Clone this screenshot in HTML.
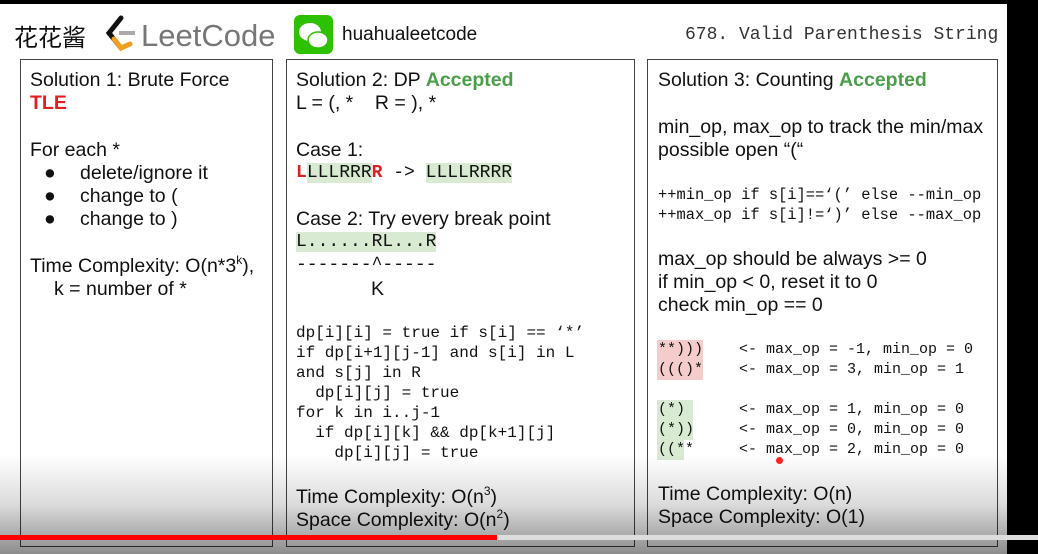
<!DOCTYPE html>
<html><head><meta charset="utf-8"><style>
body{margin:0;width:1038px;height:554px;overflow:hidden;background:#fff;position:relative;font-family:"Liberation Sans","Noto Sans CJK SC",sans-serif;color:#111}
.a{position:absolute;white-space:pre;line-height:23px;font-size:19.5px}
.m{position:absolute;white-space:pre;font-family:"Liberation Mono",monospace;font-size:16px;line-height:20px}
.box{position:absolute;border:1.5px solid #444;top:59px;height:486px}
.g{color:#4a9e4a;font-weight:bold}.r{color:#e02020;font-weight:bold}
.hg{background:#d9ead3}.hr{background:#f4cccc}
sup{font-size:12px;line-height:0;vertical-align:8px}
</style></head><body>
<div style="position:absolute;left:0;top:0;width:1038px;height:4px;background:#000"></div>
<div style="position:absolute;left:1007px;top:0;width:31px;height:554px;background:#000"></div>
<div class="a" style="left:14px;top:23px;font-size:24px;line-height:26px;font-family:'Noto Sans CJK SC',sans-serif">花花酱</div>
<svg style="position:absolute;left:103px;top:15px" width="36" height="38"><path d="M18 3 L6 18 L18 33" stroke="#111" stroke-width="5" fill="none" stroke-linecap="round"/><path d="M11 24 L18 33 L27 29" stroke="#f0a020" stroke-width="5" fill="none" stroke-linecap="round"/><line x1="16" y1="18" x2="32" y2="18" stroke="#aaa" stroke-width="4"/></svg>
<div class="a" style="left:141px;top:20px;font-size:31px;line-height:32px;color:#777">LeetCode</div>
<div style="position:absolute;left:294px;top:15px;width:39px;height:39px;background:#2dc100;border-radius:6px"></div>
<svg style="position:absolute;left:294px;top:15px" width="39" height="39"><ellipse cx="16" cy="17" rx="11" ry="9" fill="#fff"/><ellipse cx="24" cy="25" rx="10" ry="8" fill="#fff" stroke="#2dc100" stroke-width="1.5"/></svg>
<div class="a" style="left:342px;top:23px;font-size:19px">huahualeetcode</div>
<div class="m" style="left:685px;top:24px;font-size:18px;line-height:22px;color:#333">678. Valid Parenthesis String</div>

<div class="box" style="left:20px;width:251px"></div>
<div class="box" style="left:286px;width:347px"></div>
<div class="box" style="left:647px;width:349px"></div>

<div class="a" style="left:30px;top:69px">Solution 1: Brute Force</div>
<div class="a r" style="left:30px;top:92px">TLE</div>
<div class="a" style="left:30px;top:139px">For each *</div>
<div class="a" style="left:44px;top:162px">●</div><div class="a" style="left:80px;top:162px">delete/ignore it</div>
<div class="a" style="left:44px;top:185px">●</div><div class="a" style="left:80px;top:185px">change to (</div>
<div class="a" style="left:44px;top:208px">●</div><div class="a" style="left:80px;top:208px">change to )</div>
<div class="a" style="left:30px;top:255px">Time Complexity: O(n*3<sup>k</sup>),</div>
<div class="a" style="left:54px;top:278px">k = number of *</div>

<div class="a" style="left:296px;top:69px">Solution 2: DP <span class="g">Accepted</span></div>
<div class="a" style="left:296px;top:92px">L = (, *    R = ), *</div>
<div class="a" style="left:296px;top:139px">Case 1:</div>
<div class="m" style="left:296px;top:161px;font-size:18px;line-height:24px"><span class="r">L</span><span class="hg">LLLRRR</span><span class="r">R</span> -&gt; <span class="hg">LLLLRRRR</span></div>
<div class="a" style="left:296px;top:208px">Case 2: Try every break point</div>
<div class="m" style="left:296px;top:230px;font-size:18px;line-height:24px"><span class="hg">L......RL...R</span></div>
<div class="m" style="left:296px;top:253px;font-size:18px;line-height:24px">-------^-----</div>
<div class="a" style="left:371px;top:278px">K</div>
<div class="m" style="left:296px;top:323px">dp[i][i] = true if s[i] == ‘*’
if dp[i+1][j-1] and s[i] in L
and s[j] in R
  dp[i][j] = true
for k in i..j-1
  if dp[i][k] &amp;&amp; dp[k+1][j]
    dp[i][j] = true</div>
<div class="a" style="left:296px;top:486px">Time Complexity: O(n<sup>3</sup>)</div>
<div class="a" style="left:296px;top:509px">Space Complexity: O(n<sup>2</sup>)</div>

<div class="a" style="left:658px;top:69px">Solution 3: Counting <span class="g">Accepted</span></div>
<div class="a" style="left:658px;top:116px">min_op, max_op to track the min/max
possible open “(“</div>
<div class="m" style="left:658px;top:185px;font-size:15.4px">++min_op if s[i]==‘(’ else --min_op
++max_op if s[i]!=‘)’ else --max_op</div>
<div class="a" style="left:658px;top:248px">max_op should be always &gt;= 0
if min_op &lt; 0, reset it to 0
check min_op == 0</div>
<div style="position:absolute;left:657px;top:340px;width:46px;height:40px;background:#f4cccc"></div>
<div style="position:absolute;left:657px;top:400px;width:36px;height:20px;background:#d9ead3"></div>
<div style="position:absolute;left:657px;top:420px;width:36px;height:20px;background:#d9ead3"></div>
<div style="position:absolute;left:657px;top:440px;width:27px;height:20px;background:#d9ead3"></div>
<div class="m" style="left:658px;top:340px;font-size:15px">**)))    &lt;- max_op = -1, min_op = 0
((()*    &lt;- max_op = 3, min_op = 1

(*)      &lt;- max_op = 1, min_op = 0
(*))     &lt;- max_op = 0, min_op = 0
((**     &lt;- max_op = 2, min_op = 0</div>
<div class="a" style="left:658px;top:483px">Time Complexity: O(n)</div>
<div class="a" style="left:658px;top:506px">Space Complexity: O(1)</div>

<div style="position:absolute;left:0;top:455px;width:1007px;height:99px;background:linear-gradient(rgba(0,0,0,0),rgba(0,0,0,0.14) 50%,rgba(0,0,0,0.45))"></div>
<div style="position:absolute;left:0;top:535px;width:1038px;height:5px;background:#ddd"></div>
<div style="position:absolute;left:0;top:535px;width:497px;height:5px;background:#f00"></div>
<div style="position:absolute;left:776px;top:457px;width:7px;height:7px;border-radius:50%;background:#f22"></div>
</body></html>
